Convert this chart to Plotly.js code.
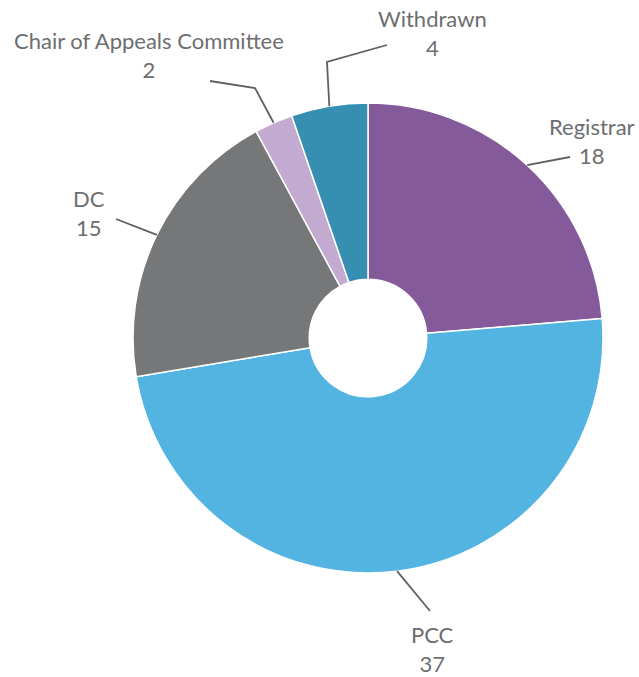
<!DOCTYPE html>
<html><head><meta charset="utf-8">
<script src="https://cdn.plot.ly/plotly-3.0.1.min.js"></script>
<style>html,body{margin:0;padding:0;background:#fff;}</style>
</head><body>
<div id="chart" style="width:639px;height:677px;"></div>
<script>
const labels = ["Registrar", "PCC", "DC", "Chair of Appeals Committee", "Withdrawn"];
const values = [18, 37, 15, 2, 4];
const colors = ["#855A9B", "#53B4E1", "#767779", "#C2AAD0", "#368EB1"];

const W = 639, H = 677;
const cx = 368, cy = 338, R = 235;
// label text centres and leader elbow points (pixels), layout only
const labelPos = [[592, 141], [432, 649], [89, 213], [149, 55], [432, 33]];
const leaderPts = [
  [[570, 157]],
  [[430, 611]],
  [[116, 219]],
  [[255, 88], [210, 81]],
  [[327, 62], [387, 45]]
];
const px = x => x / W, py = y => 1 - y / H;

const total = values.reduce((a, b) => a + b, 0);
let cum = 0;
const shapes = [], annotations = [];
values.forEach((v, i) => {
  const mid = (cum + v / 2) / total * 2 * Math.PI;
  cum += v;
  const ax = cx + R * Math.sin(mid), ay = cy - R * Math.cos(mid);
  let path = `M ${px(ax)} ${py(ay)}`;
  leaderPts[i].forEach(p => { path += ` L ${px(p[0])} ${py(p[1])}`; });
  shapes.push({type: 'path', xref: 'paper', yref: 'paper', path: path,
    line: {color: '#5f6062', width: 1.8}});
  annotations.push({xref: 'paper', yref: 'paper', x: px(labelPos[i][0]), y: py(labelPos[i][1]),
    xanchor: 'center', yanchor: 'middle', showarrow: false, borderpad: 0,
    text: labels[i] + '<br>' + values[i],
    font: {family: 'Lato, sans-serif', size: 22, color: '#6d6e70'}});
});

Plotly.newPlot('chart', [{
  type: 'pie', labels: labels, values: values, sort: false, direction: 'clockwise',
  rotation: 0, hole: 0.25, textinfo: 'none', hoverinfo: 'label+value',
  marker: {colors: colors, line: {color: '#ffffff', width: 1.5}},
  domain: {x: [px(cx - R), px(cx + R)], y: [py(cy + R), py(cy - R)]},
  showlegend: false
}], {
  width: W, height: H, margin: {l: 0, r: 0, t: 0, b: 0},
  paper_bgcolor: '#ffffff', showlegend: false,
  shapes: shapes, annotations: annotations
}, {displayModeBar: false, staticPlot: true});
</script>
</body></html>
